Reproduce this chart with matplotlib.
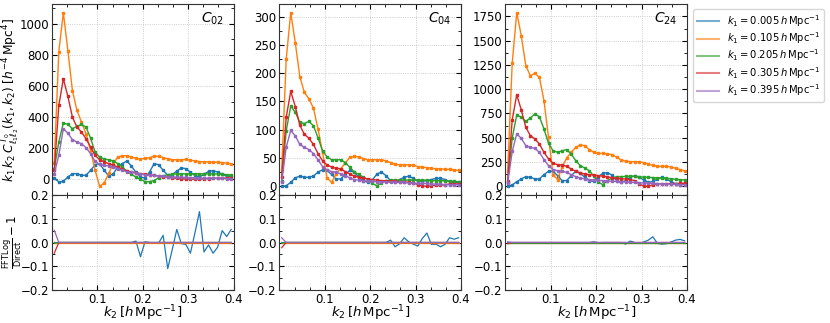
import numpy as np
import matplotlib
matplotlib.use("Agg")
import matplotlib.pyplot as plt
from matplotlib.ticker import MultipleLocator, AutoMinorLocator
from matplotlib.lines import Line2D

plt.rcParams['font.size'] = 8.5
plt.rcParams['mathtext.fontset'] = 'dejavusans'

k2 = [0.005, 0.015, 0.025, 0.035, 0.045, 0.055, 0.065, 0.075, 0.085, 0.095,
      0.105, 0.115, 0.125, 0.135, 0.145, 0.155, 0.165, 0.175, 0.185, 0.195,
      0.205, 0.215, 0.225, 0.235, 0.245, 0.255, 0.265, 0.275, 0.285, 0.295,
      0.305, 0.315, 0.325, 0.335, 0.345, 0.355, 0.365, 0.375, 0.385, 0.395]
k1_labels = ['0.005', '0.105', '0.205', '0.305', '0.395']
panel_names = ['C_{02}', 'C_{04}', 'C_{24}']

# top panels: k1 k2 C(k1, k2)
c02_k1_005 = [8, -17, -13, 15, 36, 36, 26, 26, 58, 94, 101, 58, 21, 36, 79, 101, 118, 85, 45, 15,
              8, 47, 101, 94, 58, 26, 30, 53, 73, 69, 45, 26, 15, 32, 51, 55, 47, 32, 19, 19]
c02_k1_105 = [105, 822, 1072, 828, 571, 443, 368, 293, 186, 58, -45, -24, 38, 102, 143, 152, 152, 143, 135, 130,
              134, 140, 148, 148, 140, 132, 126, 126, 126, 128, 124, 118, 114, 112, 112, 111, 110, 108, 104, 100]
c02_k1_205 = [69, 240, 362, 353, 326, 340, 353, 336, 265, 175, 143, 130, 126, 118, 101, 79, 53, 32, 15, 0,
              -15, -15, -8, 10, 22, 30, 33, 35, 35, 35, 36, 36, 36, 35, 35, 35, 34, 33, 30, 28]
c02_k1_305 = [58, 475, 647, 533, 400, 336, 304, 261, 208, 154, 126, 113, 101, 90, 79, 64, 53, 47, 43, 36,
              33, 30, 25, 22, 18, 14, 10, 6, 3, 2, 1, 1, 2, 3, 5, 6, 7, 8, 8, 8]
c02_k1_395 = [36, 154, 326, 297, 255, 240, 229, 204, 165, 116, 96, 90, 86, 79, 69, 58, 49, 45, 40, 34,
              30, 27, 25, 22, 20, 18, 16, 14, 13, 12, 11, 10, 9, 8, 8, 7, 6, 6, 5, 5]

c04_k1_005 = [0, 1, 7, 15, 18, 16, 16, 18, 25, 29, 28, 21, 13, 13, 21, 28, 25, 16, 10, 7,
              11, 22, 25, 19, 10, 8, 12, 16, 18, 14, 10, 9, 10, 12, 14, 14, 12, 8, 6, 7]
c04_k1_105 = [28, 225, 307, 254, 194, 166, 155, 138, 102, 60, 15, 7, 22, 31, 41, 51, 53, 52, 49, 47,
              47, 47, 47, 45, 42, 39, 38, 38, 38, 37, 35, 34, 33, 32, 31, 31, 30, 30, 29, 28]
c04_k1_205 = [10, 98, 142, 131, 113, 111, 115, 107, 86, 63, 52, 47, 47, 47, 42, 34, 25, 21, 16, 12,
              5, 1, 6, 10, 11, 11, 11, 11, 11, 11, 11, 11, 11, 10, 10, 10, 10, 9, 9, 8]
c04_k1_305 = [16, 122, 168, 141, 108, 92, 85, 74, 58, 45, 38, 34, 32, 31, 26, 22, 18, 16, 15, 13,
              12, 11, 10, 10, 9, 9, 8, 8, 7, 6, 3, 1, 0, 1, 2, 2, 3, 4, 4, 4]
c04_k1_395 = [7, 69, 99, 89, 74, 69, 65, 58, 47, 35, 29, 26, 25, 22, 19, 15, 12, 11, 10, 9,
              9, 8, 8, 8, 7, 7, 7, 7, 6, 6, 5, 5, 5, 4, 4, 4, 3, 3, 3, 3]

c24_k1_005 = [0, 14, 48, 76, 100, 93, 76, 76, 120, 155, 155, 110, 59, 59, 110, 155, 134, 93, 59, 50,
              100, 135, 140, 115, 59, 41, 59, 93, 110, 93, 66, 41, 50, 76, 93, 76, 48, 25, 17, 31]
c24_k1_105 = [155, 1266, 1788, 1551, 1242, 1139, 1163, 1122, 882, 504, 120, 69, 196, 292, 350, 401, 426, 419, 378, 350,
              340, 338, 336, 325, 300, 272, 258, 254, 254, 252, 244, 230, 215, 205, 205, 205, 200, 185, 172, 160]
c24_k1_205 = [41, 498, 735, 710, 669, 704, 745, 717, 591, 443, 367, 350, 367, 378, 333, 265, 213, 189, 160, 105,
              41, 17, 59, 86, 100, 100, 102, 104, 102, 98, 95, 92, 90, 88, 85, 82, 78, 72, 68, 66]
c24_k1_305 = [59, 683, 944, 786, 607, 522, 488, 436, 350, 282, 237, 223, 220, 206, 179, 155, 138, 127, 120, 117,
              110, 105, 98, 90, 82, 78, 75, 70, 59, 25, 2, 0, 17, 25, 26, 27, 28, 29, 30, 31]
c24_k1_395 = [31, 360, 539, 494, 419, 401, 391, 350, 275, 213, 172, 162, 155, 144, 120, 100, 86, 76, 69, 66,
              62, 58, 55, 52, 50, 48, 45, 42, 40, 38, 35, 32, 30, 28, 26, 24, 22, 20, 18, 17]

# bottom panels: FFTLog / Direct - 1
r02_k1_005 = [0, 0, 0, 0, 0, 0, 0, 0, 0, 0, 0, 0, 0, 0, 0, 0, 0, 0, 0.006, -0.06,
              0.003, 0, -0.002, -0.002, 0.03, -0.11, -0.03, 0.055, -0.005, -0.008,
              -0.045, 0.04, 0.13, -0.04, -0.01, -0.045, -0.02, 0.05, 0.025, 0.055]
r02_k1_105 = [0, 0, 0, 0, 0, 0, 0, 0, 0, 0, 0, 0, 0, 0, 0, 0, 0, 0, 0, 0,
              0, 0, 0, 0, 0, 0, 0, 0, 0, 0, 0, 0, 0, 0, 0, 0, 0, 0, 0, 0]
r02_k1_205 = [-0.004, 0, 0, 0, 0, 0, 0, 0, 0, 0, 0, 0, 0, 0, 0, 0, 0, 0, 0, 0,
              0, 0, 0, 0, 0, 0, 0, 0, 0, 0, 0, 0, 0, 0, 0, 0, 0, 0, 0, 0]
r02_k1_305 = [-0.045, 0, 0, 0, 0, 0, 0, 0, 0, 0, 0, 0, 0, 0, 0, 0, 0, 0, 0, 0,
              0, 0, 0, 0, 0, 0, 0, 0, 0, 0, 0, 0, 0, 0, 0, 0, 0, 0, 0, 0]
r02_k1_395 = [0.052, 0, 0, 0, 0, 0, 0, 0, 0, 0, 0, 0, 0, 0, 0, 0, 0, 0, 0, 0,
              0, 0, 0, 0, 0, 0, 0, 0, 0, 0, 0, 0, 0, 0, 0, 0, 0, 0, 0, 0]

r04_k1_005 = [0, 0, 0, 0, 0, 0, 0, 0, 0, 0, 0, 0, 0, 0, 0, 0, 0, 0, 0, 0,
              0, 0, 0, 0, 0.01, -0.018, -0.005, 0.02, 0.003, -0.007,
              -0.015, 0.017, 0.04, -0.008, -0.007, -0.018, -0.008, 0.02, 0.014, 0.02]
r04_k1_105 = [0, 0, 0, 0, 0, 0, 0, 0, 0, 0, 0, 0, 0, 0, 0, 0, 0, 0, 0, 0,
              0, 0, 0, 0, 0, 0, 0, 0, 0, 0, 0, 0, 0, 0, 0, 0, 0, 0, 0, 0]
r04_k1_205 = [-0.003, 0, 0, 0, 0, 0, 0, 0, 0, 0, 0, 0, 0, 0, 0, 0, 0, 0, 0, 0,
              0, 0, 0, 0, 0, 0, 0, 0, 0, 0, 0, 0, 0, 0, 0, 0, 0, 0, 0, 0]
r04_k1_305 = [-0.022, 0, 0, 0, 0, 0, 0, 0, 0, 0, 0, 0, 0, 0, 0, 0, 0, 0, 0, 0,
              0, 0, 0, 0, 0, 0, 0, 0, 0, 0, 0, 0, 0, 0, 0, 0, 0, 0, 0, 0]
r04_k1_395 = [0.02, 0, 0, 0, 0, 0, 0, 0, 0, 0, 0, 0, 0, 0, 0, 0, 0, 0, 0, 0,
              0, 0, 0, 0, 0, 0, 0, 0, 0, 0, 0, 0, 0, 0, 0, 0, 0, 0, 0, 0]

r24_k1_005 = [0, 0, 0, 0, 0, 0, 0, 0, 0, 0, 0, 0, 0, 0, 0, 0, 0, 0, 0, 0.003,
              -0.001, 0, 0, 0, 0, 0, -0.007, 0.006, 0, -0.004,
              0.002, 0.01, 0.024, -0.004, -0.007, -0.005, 0.002, 0.01, 0.013, 0.007]
r24_k1_105 = [0, 0, 0, 0, 0, 0, 0, 0, 0, 0, 0, 0, 0, 0, 0, 0, 0, 0, 0, 0,
              0, 0, 0, 0, 0, 0, 0, 0, 0, 0, 0, 0, 0, 0, 0, 0, 0, 0, 0, 0]
r24_k1_205 = [0, 0, 0, 0, 0, 0, 0, 0, 0, 0, 0, 0, 0, 0, 0, 0, 0, 0, 0, 0,
              0, 0, 0, 0, 0, 0, 0, 0, 0, 0, 0, 0, 0, 0, 0, 0, 0, 0, 0, 0]
r24_k1_305 = [-0.005, 0, 0, 0, 0, 0, 0, 0, 0, 0, 0, 0, 0, 0, 0, 0, 0, 0, 0, 0,
              0, 0, 0, 0, 0, 0, 0, 0, 0, 0, 0, 0, 0, 0, 0, 0, 0, 0, 0, 0]
r24_k1_395 = [0.003, 0, 0, 0, 0, 0, 0, 0, 0, 0, 0, 0, 0, 0, 0, 0, 0, 0, 0, 0,
              0, 0, 0, 0, 0, 0, 0, 0, 0, 0, 0, 0, 0, 0, 0, 0, 0, 0, 0, 0]

top_data = [[c02_k1_005, c02_k1_105, c02_k1_205, c02_k1_305, c02_k1_395],
            [c04_k1_005, c04_k1_105, c04_k1_205, c04_k1_305, c04_k1_395],
            [c24_k1_005, c24_k1_105, c24_k1_205, c24_k1_305, c24_k1_395]]
res_data = [[r02_k1_005, r02_k1_105, r02_k1_205, r02_k1_305, r02_k1_395],
            [r04_k1_005, r04_k1_105, r04_k1_205, r04_k1_305, r04_k1_395],
            [r24_k1_005, r24_k1_105, r24_k1_205, r24_k1_305, r24_k1_395]]
colors = ['C0', 'C1', 'C2', 'C3', 'C4']

fig = plt.figure(figsize=(8.3, 3.23), dpi=100)
W, H = 830, 323
lefts = [52, 279.4, 505.4]
width = 181.5
y_top, y_mid, y_bot = 4, 195, 290


def style(ax):
    ax.tick_params(which='both', direction='in', top=True, right=True, pad=2)
    ax.tick_params(which='major', length=3.5, width=0.8)
    ax.tick_params(which='minor', length=2, width=0.6)
    ax.grid(True, which='major', ls=':', lw=0.6, color='0.75')
    ax.set_axisbelow(True)
    ax.xaxis.set_major_locator(MultipleLocator(0.1))
    ax.xaxis.set_minor_locator(AutoMinorLocator(3))
    ax.yaxis.set_minor_locator(AutoMinorLocator(2))
    for sp in ax.spines.values():
        sp.set_color('0.2')


for j in range(3):
    x0 = lefts[j] / W
    ax_t = fig.add_axes([x0, 1 - y_mid / H, width / W, (y_mid - y_top) / H])
    ax_b = fig.add_axes([x0, 1 - y_bot / H, width / W, (y_bot - y_mid) / H], sharex=ax_t)
    for c, ys in zip(colors, top_data[j]):
        ax_t.plot(k2, ys, color=c, lw=1, marker='s', ms=2)
    for c, ys in zip(colors, res_data[j]):
        ax_b.plot(k2, ys, color=c, lw=0.9)
    style(ax_t)
    style(ax_b)
    ax_t.tick_params(labelbottom=False)
    ax_b.set_xlim(0, 0.4)
    ax_b.set_xticks([0.1, 0.2, 0.3, 0.4])
    ax_b.set_ylim(-0.2, 0.2)
    ax_b.yaxis.set_major_locator(MultipleLocator(0.1))
    ax_b.set_xlabel(r'$k_2\,[h\,\mathrm{Mpc}^{-1}]$', fontsize=9.5, labelpad=-1.5)
    ax_t.text(0.95, 0.965, '$' + panel_names[j] + '$', transform=ax_t.transAxes,
              ha='right', va='top', fontsize=10)
    if j == 0:
        ax_t.set_ylabel(r'$k_1\,k_2\,C^{T_0}_{\ell_1\ell_2}(k_1, k_2)\;[h^{-4}\,\mathrm{Mpc}^4]$', fontsize=8.8)
        ax_b.set_ylabel(r'$\frac{\mathrm{FFTLog}}{\mathrm{Direct}} - 1$', fontsize=8.5)
        ax_t.yaxis.set_label_coords(-0.165, 0.5)
        ax_b.yaxis.set_label_coords(-0.15, 0.5)

handles = [Line2D([], [], color=c, lw=1.5, alpha=0.6) for c in colors]
labels = [r'$k_1 = %s\,h\,\mathrm{Mpc}^{-1}$' % v for v in k1_labels]
fig.legend(handles, labels, loc='upper left', bbox_to_anchor=(693 / W, 1 - 9 / H),
           fontsize=7.2, frameon=True, framealpha=0.8, borderaxespad=0,
           handlelength=2.2, labelspacing=0.15, borderpad=0.4)

fig.savefig('out.png', dpi=100)
